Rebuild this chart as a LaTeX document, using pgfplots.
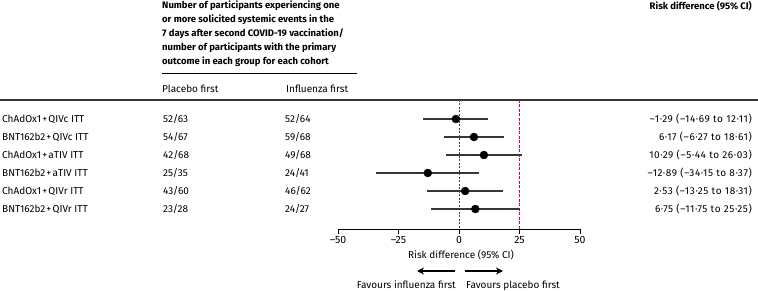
\documentclass[border=0pt]{standalone}
\usepackage{fontspec}
\setmainfont{Fira Sans}
\usepackage{pgfplots}
\pgfplotsset{compat=1.18}
\usetikzlibrary{arrows.meta}
\definecolor{rdash}{RGB}{230,0,60}
\definecolor{ln}{RGB}{55,55,55}
\pgfplotstableread{
row est em ep
1 -1.29 13.40 13.40
2 6.17 12.44 12.44
3 10.29 15.73 15.74
4 -12.89 21.26 21.26
5 2.53 15.78 15.78
6 6.75 18.50 18.50
}\rdtable
\newcommand{\fs}{\fontsize{9.5}{14}\selectfont}
\newcommand{\fr}{\fontsize{10}{14}\selectfont}
\newcommand{\pl}{\hspace{0.12em}+\hspace{0.12em}}
\begin{document}
\begin{tikzpicture}[x=1pt,y=-1pt, font=\fr]
\useasboundingbox (0,0) rectangle (758,291);
% header
\begin{scope}[every node/.style={anchor=base west, inner sep=0pt, font=\bfseries\fs}]
\node at (162,9) {Number of participants experiencing one};
\node at (162,23) {or more solicited systemic events in the};
\node at (162,37) {7 days after second COVID-19 vaccination/};
\node at (162,51) {number of participants with the primary};
\node at (162,65) {outcome in each group for each cohort};
\node[anchor=base east] at (752,9.5) {Risk difference (95\% CI)};
\end{scope}
\draw[line width=1pt, black] (162,74) -- (357,74);
\node[anchor=base west, inner sep=0pt] at (162,92.5) {Placebo first};
\node[anchor=base west, inner sep=0pt] at (286,92.5) {Influenza first};
\draw[line width=1.5pt, ln] (0,100) -- (758,100);
% rows
\begin{scope}[every node/.style={anchor=base west, inner sep=0pt}]
\node at (2,122.5) {ChAdOx1\pl QIVc ITT};
\node at (2,140.5) {BNT162b2\pl QIVc ITT};
\node at (2,158.5) {ChAdOx1\pl aTIV ITT};
\node at (2,176.5) {BNT162b2\pl aTIV ITT};
\node at (2,194.5) {ChAdOx1\pl QIVr ITT};
\node at (2,212.5) {BNT162b2\pl QIVr ITT};
\node at (163,122.5) {52/63};
\node at (163,140.5) {54/67};
\node at (163,158.5) {42/68};
\node at (163,176.5) {25/35};
\node at (163,194.5) {43/60};
\node at (163,212.5) {23/28};
\node at (285,122.5) {52/64};
\node at (285,140.5) {59/68};
\node at (285,158.5) {49/68};
\node at (285,176.5) {24/41};
\node at (285,194.5) {46/62};
\node at (285,212.5) {24/27};
\end{scope}
\begin{scope}[every node/.style={anchor=base east, inner sep=0pt, font=\fr\addfontfeatures{LetterSpace=6}}]
\node at (752,122.5) {–1·29 (–14·69 to 12·11)};
\node at (752,140.5) {6·17 (–6·27 to 18·61)};
\node at (752,158.5) {10·29 (–5·44 to 26·03)};
\node at (752,176.5) {–12·89 (–34·15 to 8·37)};
\node at (752,194.5) {2·53 (–13·25 to 18·31)};
\node at (752,212.5) {6·75 (–11·75 to 25·25)};
\end{scope}
\begin{axis}[at={(338pt,-229pt)}, anchor=south west, scale only axis,
  width=242pt, height=129pt, clip=false,
  xmin=-50, xmax=50, ymin=-0.0556, ymax=7.111, y dir=reverse,
  axis y line=none, axis x line=bottom, x axis line style={-, line width=0.9pt, black},
  xtick={-50,-25,0,25,50}, xticklabels={–50,–25,0,25,50},
  tick align=outside, xtick pos=bottom, major tick length=5pt,
  tick style={line width=0.9pt, black},
  ticklabel style={font=\fontsize{10.5}{12}\selectfont}, xticklabel style={yshift=1.5pt},
]
\addplot[dash pattern=on 2pt off 1.5pt, line width=0.9pt, color=black!75, no marks] coordinates {(0,-0.0556) (0,7.111)};
\addplot[dash pattern=on 3pt off 1.5pt, line width=1.4pt, draw=rdash, no marks] coordinates {(25,-0.0556) (25,7.111)};
\addplot[only marks, mark=*, mark size=4pt, black,
  error bars/.cd, x dir=both, x explicit, error mark=none,
  error bar style={line width=1.3pt, ln}]
  table[x=est, y=row, x error plus=ep, x error minus=em] {\rdtable};
\end{axis}
\node[inner sep=0pt] at (461,255.5) {Risk difference (95\% CI)};
\draw[line width=1.3pt, -{Stealth[length=7pt,width=7pt]}] (455,271) -- (417,271);
\draw[line width=1.3pt, -{Stealth[length=7pt,width=7pt]}] (465,271) -- (503,271);
\node[anchor=base east, inner sep=0pt] at (456,288.5) {Favours influenza first};
\node[anchor=base west, inner sep=0pt] at (466,288.5) {Favours placebo first};
\end{tikzpicture}
\end{document}
